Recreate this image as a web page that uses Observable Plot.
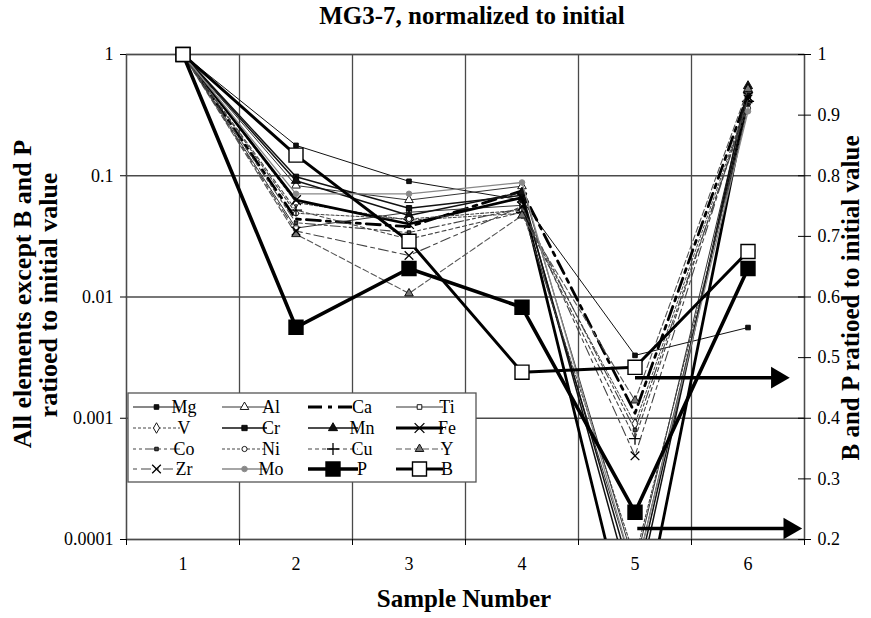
<!DOCTYPE html>
<html><head><meta charset="utf-8">
<script src="https://cdn.jsdelivr.net/npm/d3@7"></script>
<script src="https://cdn.jsdelivr.net/npm/@observablehq/plot@0.6"></script>
<style>body{margin:0;background:#fff}#chart svg{display:block}#chart svg text{font-family:"Liberation Serif"}</style>
</head><body><div id="chart"></div>
<script>
// ---------- data ----------
const samples = [1, 2, 3, 4, 5, 6];
const sampleBounds = [0.5, 1.5, 2.5, 3.5, 4.5, 5.5, 6.5];
const leftTicks = [1, 0.1, 0.01, 0.001, 0.0001];
const leftTickLabels = ["1", "0.1", "0.01", "0.001", "0.0001"];
const rightTicks = [0.2, 0.3, 0.4, 0.5, 0.6, 0.7, 0.8, 0.9, 1];
const rightTickLabels = ["0.2", "0.3", "0.4", "0.5", "0.6", "0.7", "0.8", "0.9", "1"];
const elements = ["Mg","Al","Ca","Ti","V","Cr","Mn","Fe","Co","Ni","Cu","Y","Zr","Mo","P","B"];
const rightElements = ["P", "B"];

// left (log) axis series
const Mg = [1, 0.178, 0.090, 0.063, 0.0033, 0.0056];
const Al = [1, 0.083, 0.063, 0.082, 0.00006, 0.50];
const Ca = [1, 0.044, 0.038, 0.075, 0.0011, 0.47];
const Ti = [1, 0.037, 0.050, 0.057, 0.00005, 0.40];
const V  = [1, 0.060, 0.043, 0.049, 0.0009, 0.42];
const Cr = [1, 0.098, 0.054, 0.069, 0.00004, 0.46];
const Mn = [1, 0.091, 0.047, 0.073, 0.00003, 0.55];
const Fe = [1, 0.063, 0.040, 0.066, 0.00001, 0.45];
const Co = [1, 0.041, 0.034, 0.054, 0.0008, 0.38];
const Ni = [1, 0.049, 0.044, 0.052, 0.00007, 0.36];
const Cu = [1, 0.052, 0.030, 0.050, 0.00068, 0.41];
const Y  = [1, 0.033, 0.0107, 0.047, 0.0014, 0.52];
const Zr = [1, 0.035, 0.022, 0.056, 0.00049, 0.43];
const Mo = [1, 0.071, 0.071, 0.088, 0.00005, 0.34];
// right (linear) axis series
const P = [1, 0.55, 0.647, 0.583, 0.245, 0.647];
const B = [1, 0.834, 0.692, 0.476, 0.484, 0.675];

// arrows pointing to the right axis (sample from, sample to, right-axis value)
const arrowFrom = [5.0, 5.02];
const arrowTo = [6.33, 6.44];
const arrowValue = [0.467, 0.218];

const series = {Mg, Al, Ca, Ti, V, Cr, Mn, Fe, Co, Ni, Cu, Y, Zr, Mo, P, B};

// ---------- styles ----------
const styles = {
  Mg: {stroke:"#111", width:1,   dash:null, symbol:"square",   r:2.6, fill:"#111"},
  Al: {stroke:"#333", width:1,   dash:null, symbol:"triangle", r:3.2, fill:"white"},
  Ca: {stroke:"#000", width:2.8, dash:"14,6,4,6", symbol:null},
  Ti: {stroke:"#333", width:1,   dash:null, symbol:"square",   r:2.6, fill:"white"},
  V:  {stroke:"#444", width:1,   dash:"3,2", symbol:"diamond", r:3.2, fill:"white"},
  Cr: {stroke:"#111", width:1.5, dash:null, symbol:"square",   r:3.0, fill:"#111"},
  Mn: {stroke:"#111", width:1.5, dash:null, symbol:"triangle", r:3.4, fill:"#111"},
  Fe: {stroke:"#000", width:2.8, dash:null, symbol:"times",    r:4.5, fill:"none"},
  Co: {stroke:"#444", width:1.1, dash:"3,3,3,3,10,3", symbol:"square", r:2.0, fill:"#444"},
  Ni: {stroke:"#444", width:1.1, dash:"3,2", symbol:"circle",  r:2.6, fill:"white"},
  Cu: {stroke:"#444", width:1.1, dash:"4,3", symbol:"plus",    r:4.0, fill:"none"},
  Y:  {stroke:"#555", width:1.1, dash:"6,3", symbol:"triangle",r:3.2, fill:"#777"},
  Zr: {stroke:"#444", width:1.1, dash:"4,4,10,4", symbol:"times", r:4.0, fill:"none"},
  Mo: {stroke:"#888", width:1.3, dash:null, symbol:"circle",   r:2.8, fill:"#888"},
  P:  {stroke:"#000", width:3.6, dash:null, symbol:"square",   r:7.9, fill:"#000"},
  B:  {stroke:"#000", width:3.0, dash:null, symbol:"square",   r:7.9, fill:"white"}
};

// ---------- scales ----------
const leftDomain = [1e-4, 1];
const rightDomain = [0.2, 1];
const L0 = Math.log10(leftDomain[0]), L1 = Math.log10(leftDomain[1]);
const toLeft = v => Math.pow(10, L0 + (v - rightDomain[0]) / (rightDomain[1] - rightDomain[0]) * (L1 - L0));
const rightPos = rightTicks.map(toLeft);
const rightLabelFor = d => rightTickLabels[rightPos.findIndex(p => Math.abs(p - d) <= 1e-6 * p)];

const rows = [];
for (const e of elements) {
  const right = rightElements.includes(e);
  series[e].forEach((v, i) => rows.push({element: e, sample: samples[i], value: v, pos: right ? toLeft(v) : v}));
}
const arrows = arrowFrom.map((f, i) => ({from: f, to: arrowTo[i], pos: toLeft(arrowValue[i])}));

const FONT = "Liberation Serif";
const gridStroke = "#4a4a4a";
const marks = [
  Plot.gridX(sampleBounds, {stroke: gridStroke, strokeOpacity: 1, strokeWidth: 1.3}),
  Plot.gridY(leftTicks, {stroke: gridStroke, strokeOpacity: 1, strokeWidth: 1.3}),
  Plot.frame({stroke: gridStroke, strokeWidth: 1.3}),
  Plot.axisY(leftTicks, {anchor: "left", label: null, tickSize: 6, tickPadding: 7,
    tickFormat: d => leftTickLabels[leftTicks.indexOf(d)], fontSize: 18, fontFamily: FONT}),
  Plot.axisY(rightPos, {anchor: "right", label: null, tickSize: 6, tickPadding: 7,
    tickFormat: rightLabelFor, fontSize: 18, fontFamily: FONT}),
  Plot.axisY(rightPos, {anchor: "right", label: null, tickSize: 7, dx: -7, tickFormat: () => ""}),
  Plot.axisX(samples, {anchor: "bottom", label: null, tickSize: 0, tickPadding: 18, fontSize: 18, fontFamily: FONT}),
  Plot.axisX(sampleBounds, {anchor: "bottom", label: null, tickSize: 6, tickFormat: () => ""})
];

for (const e of elements) {
  const st = styles[e];
  const d = rows.filter(r => r.element === e);
  marks.push(Plot.line(d, {x: "sample", y: "pos", stroke: st.stroke, strokeWidth: st.width,
    strokeDasharray: st.dash || undefined, clip: true}));
  if (st.symbol) {
    const open = st.fill === "none";
    marks.push(Plot.dot(d.filter(r => r.pos >= leftDomain[0]), {x: "sample", y: "pos", symbol: st.symbol, r: st.r,
      fill: open ? "none" : st.fill, stroke: st.stroke === "#888" ? "#888" : "#000",
      strokeWidth: open ? 1.3 : (st.r > 6 ? 1.4 : 0.9)}));
  }
}
marks.push(Plot.link(arrows, {x1: "from", x2: "to", y1: "pos", y2: "pos", stroke: "#000", strokeWidth: 3.5}));
marks.push(Plot.dot(arrows, {x: "to", y: "pos", symbol: "triangle", rotate: 90, r: 8, fill: "#000", stroke: "none", dx: -8}));

const chart = Plot.plot({
  width: 871, height: 618,
  marginTop: 54, marginBottom: 79, marginLeft: 126, marginRight: 67,
  x: {domain: [0.5, 6.5], axis: null},
  y: {type: "log", domain: leftDomain, axis: null},
  style: {fontFamily: FONT, fontSize: "18px", color: "#000", background: "#fff"},
  marks
});
document.getElementById("chart").appendChild(chart);

// ---------- titles & legend ----------
const svg = d3.select(chart);
const g = svg.append("g").attr("font-family", FONT).attr("font-weight", "bold").attr("fill", "#000");
g.append("text").attr("x", 472).attr("y", 24).attr("text-anchor", "middle").attr("font-size", 25)
  .text("MG3-7, normalized to initial");
g.append("text").attr("x", 464).attr("y", 607).attr("text-anchor", "middle").attr("font-size", 25)
  .text("Sample Number");
g.append("text").attr("transform", "translate(31,294) rotate(-90)").attr("text-anchor", "middle").attr("font-size", 26)
  .text("All elements except B and P");
g.append("text").attr("transform", "translate(57,295) rotate(-90)").attr("text-anchor", "middle").attr("font-size", 26)
  .text("ratioed to initial value");
g.append("text").attr("transform", "translate(859,298) rotate(-90)").attr("text-anchor", "middle").attr("font-size", 25)
  .text("B and P ratioed to initial value");

const symMap = {square: d3.symbolSquare, triangle: d3.symbolTriangle, diamond: d3.symbolDiamond,
  circle: d3.symbolCircle, times: d3.symbolTimes, plus: d3.symbolPlus};
const lg = svg.append("g").attr("transform", "translate(128,393)").attr("font-family", FONT);
lg.append("rect").attr("width", 348).attr("height", 89).attr("fill", "#fff").attr("stroke", "#555").attr("stroke-width", 1.3);
const colLine = [[5, 52], [94, 139], [180, 230], [268, 315]];
const rowY = [14, 35, 56, 76];
elements.forEach((e, i) => {
  const st = styles[e];
  const c = i % 4, rr = Math.floor(i / 4);
  const [x1, x2] = colLine[c], y = rowY[rr];
  lg.append("line").attr("x1", x1).attr("x2", x2).attr("y1", y).attr("y2", y)
    .attr("stroke", st.stroke).attr("stroke-width", st.width).attr("stroke-dasharray", st.dash || null);
  if (st.symbol) {
    const open = st.fill === "none";
    lg.append("path").attr("transform", `translate(${(x1 + x2) / 2},${y})`)
      .attr("d", d3.symbol(symMap[st.symbol], Math.PI * st.r * st.r)())
      .attr("fill", open ? "none" : st.fill).attr("stroke", st.stroke === "#888" ? "#888" : "#000")
      .attr("stroke-width", open ? 1.3 : (st.r > 6 ? 1.4 : 0.9));
  }
  lg.append("text").attr("x", x2 + 4).attr("y", y).attr("dy", "0.35em").attr("font-size", 18).text(e);
});
</script></body></html>
